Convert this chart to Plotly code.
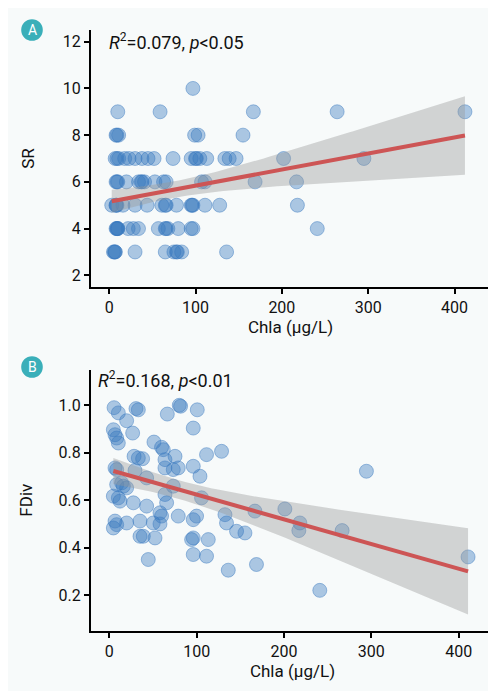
import numpy as np
import plotly.graph_objects as go

# panel A: species richness vs chlorophyll a
chla_a = [97,
          10, 59, 167, 264, 412,
          8, 9, 11, 99, 103, 155,
          7, 9, 11, 18, 23, 30, 38, 45, 52, 74, 95, 100, 101, 105, 113, 134, 139, 147, 202, 295,
          8, 9, 10, 20, 34, 37, 38, 41, 53, 63, 66, 107, 111, 169, 217,
          3, 8, 8, 9, 16, 30, 44, 61, 65, 66, 78, 95, 96, 97, 111, 128, 218,
          8, 9, 9, 10, 10, 22, 28, 34, 57, 65, 66, 68, 80, 95, 97, 241,
          5, 6, 7, 7, 30, 65, 75, 78, 79, 84, 136]
sr_a = [10] * 1 + [9] * 5 + [8] * 6 + [7] * 20 + [6] * 15 + [5] * 17 + [4] * 16 + [3] * 11

# panel B: functional divergence vs chlorophyll a
chla_b = [5.4, 10.3, 30.5, 33.2, 19.8, 4.6, 6.5, 8.4, 10.3, 26.7, 66.4, 80.1, 81.6, 96.1, 100.7,
          51.1, 59.8, 61.8, 28.3, 33.2, 38.1, 63.7, 75.2, 63.7, 73.2, 78.9, 96.1, 6.5, 8.4, 29.4,
          42.7, 14.1, 16.0, 19.8, 8.4, 4.6, 10.3, 12.2, 27.5, 63.7, 65.6, 73.2, 42.7, 58.0, 59.8,
          6.5, 8.4, 4.6, 19.8, 35.1, 50.3, 58.0, 78.9, 96.1, 99.9, 35.1, 38.9, 52.3, 94.2, 96.1,
          44.6, 96.1, 111.3, 128.5, 103.8, 105.6, 113.3, 111.3, 132.4, 134.2, 145.7, 155.3, 166.7,
          136.2, 168.5, 294.4, 201, 218.2, 217, 266.6, 410.8, 241]
fdiv_b = [0.99, 0.968, 0.986, 0.981, 0.935, 0.897, 0.876, 0.862, 0.841, 0.883, 0.963, 1.0, 0.996, 0.904, 0.981,
          0.845, 0.823, 0.813, 0.785, 0.778, 0.775, 0.771, 0.785, 0.736, 0.729, 0.736, 0.743, 0.736, 0.729, 0.725,
          0.694, 0.673, 0.659, 0.652, 0.666, 0.617, 0.610, 0.596, 0.589, 0.624, 0.589, 0.659, 0.575, 0.547, 0.533,
          0.512, 0.497, 0.483, 0.504, 0.512, 0.504, 0.500, 0.533, 0.518, 0.533, 0.448, 0.448, 0.441, 0.434, 0.441,
          0.350, 0.371, 0.792, 0.806, 0.701, 0.610, 0.434, 0.364, 0.539, 0.504, 0.469, 0.462, 0.554,
          0.305, 0.329, 0.722, 0.563, 0.504, 0.472, 0.472, 0.361, 0.220]

SUP2 = "<sup><span style='font-size:12px'>2</span></sup>"
label_a = "<i>R</i>" + SUP2 + "=0.079, <i>p</i><0.05"
label_b = "<i>R</i>" + SUP2 + "=0.168, <i>p</i><0.01"

BG = "#F7FAFA"
PT = "rgba(55,120,190,0.4)"
PT_LINE = "rgba(55,120,190,0.45)"
RED = "#CD5555"
TEAL = "#3AAFB9"


# linear fit + 95% band, like geom_smooth(method="lm")
def lm_band(x, y, t=1.99):
    x = np.asarray(x, float)
    y = np.asarray(y, float)
    b, a = np.polyfit(x, y, 1)
    n = len(x)
    res = y - (a + b * x)
    s = np.sqrt((res ** 2).sum() / (n - 2))
    sxx = ((x - x.mean()) ** 2).sum()
    xs = np.linspace(x.min(), x.max(), 80)
    fit = a + b * xs
    se = s * np.sqrt(1 / n + (xs - x.mean()) ** 2 / sxx)
    return xs, fit, fit - t * se, fit + t * se


fig = go.Figure()


def add_panel(x, y, xa, ya):
    xs, fit, lo, hi = lm_band(x, y)
    fig.add_trace(go.Scatter(x=x, y=y, mode="markers", xaxis=xa, yaxis=ya,
                             marker=dict(size=14, color=PT, line=dict(color=PT_LINE, width=1))))
    fig.add_trace(go.Scatter(x=np.concatenate([xs, xs[::-1]]), y=np.concatenate([hi, lo[::-1]]),
                             mode="lines", fill="toself", fillcolor="rgba(153,153,153,0.4)",
                             line=dict(width=0), xaxis=xa, yaxis=ya, hoverinfo="skip"))
    fig.add_trace(go.Scatter(x=xs, y=fit, mode="lines", line=dict(color=RED, width=4),
                             xaxis=xa, yaxis=ya))


add_panel(chla_a, sr_a, "x", "y")
add_panel(chla_b, fdiv_b, "x2", "y2")

W, H = 496, 691
axis_common = dict(showline=True, linecolor="black", linewidth=2, ticks="outside", ticklen=5,
                   tickwidth=1.5, tickcolor="black", showgrid=False, zeroline=False,
                   automargin=False, tickfont=dict(size=16, color="#111"),
                   title_font=dict(size=17, color="#111"))

fig.update_layout(
    width=W, height=H, showlegend=False,
    margin=dict(l=0, r=0, t=0, b=0),
    paper_bgcolor=BG, plot_bgcolor=BG,
    font=dict(family="Roboto, Arial, sans-serif", color="#111"),
    xaxis=dict(axis_common, domain=[83 / W, 482 / W], range=[-21, 441], anchor="y",
               tickvals=[0, 100, 200, 300, 400], title=dict(text="Chla (μg/L)", standoff=3)),
    yaxis=dict(axis_common, domain=[1 - 279 / H, 1 - 22 / H], range=[1.5, 12.5], anchor="x",
               tickvals=[2, 4, 6, 8, 10, 12], title=dict(text="SR", standoff=24)),
    xaxis2=dict(axis_common, domain=[83 / W, 486 / W], range=[-21, 440.5], anchor="y2",
                tickvals=[0, 100, 200, 300, 400], title=dict(text="Chla (μg/L)", standoff=3)),
    yaxis2=dict(axis_common, domain=[1 - 622.7 / H, 1 - 361.7 / H], range=[0.05, 1.15], anchor="x2",
                tickvals=[0.2, 0.4, 0.6, 0.8, 1.0], tickformat=".1f",
                title=dict(text="FDiv", standoff=22)),
)

# stat labels
fig.add_annotation(x=-2, y=12, xref="x", yref="y", text=label_a, showarrow=False,
                   xanchor="left", yanchor="middle", font=dict(size=18, color="#111"))
fig.add_annotation(x=-15, y=1.108, xref="x2", yref="y2", text=label_b, showarrow=False,
                   xanchor="left", yanchor="middle", font=dict(size=18, color="#111"))

# panel letter badges
for letter, cy in [("A", 22), ("B", 359)]:
    r = 10.8
    fig.add_shape(type="circle", xref="paper", yref="paper",
                  x0=(24 - r) / W, x1=(24 + r) / W, y0=1 - (cy + r) / H, y1=1 - (cy - r) / H,
                  fillcolor=TEAL, line=dict(width=0))
    fig.add_annotation(x=24 / W, y=1 - cy / H, xref="paper", yref="paper", text=letter,
                       xanchor="center", yanchor="middle",
                       showarrow=False, font=dict(size=14, color="white"))

fig.write_html("out.html")
